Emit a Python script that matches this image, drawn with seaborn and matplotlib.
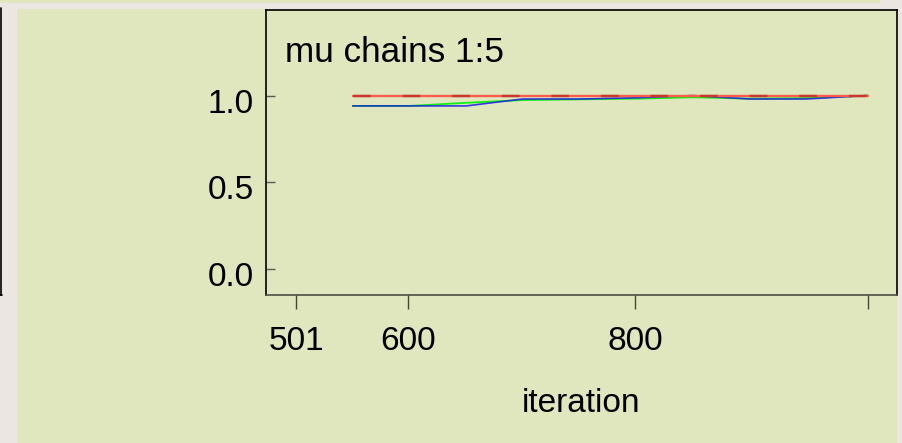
import matplotlib
matplotlib.use("Agg")
import matplotlib.pyplot as plt
from matplotlib.patches import Rectangle
from matplotlib.lines import Line2D
from matplotlib.transforms import ScaledTranslation
import pandas as pd
import seaborn as sns

# Brooks-Gelman-Rubin diagnostic for mu (chains 1:5)
iterations = [551, 601, 651, 701, 751, 801, 851, 901, 951, 1005]
pooled_width = [0.94, 0.94, 0.958, 0.974, 0.978, 0.982, 0.99, 0.982, 0.985, 1.0]   # green
within_width = [0.94, 0.94, 0.94, 0.98, 0.98, 0.987, 1.0, 0.98, 0.98, 1.0]        # blue
bgr_ratio = [1.0, 1.0, 1.0, 1.0, 1.0, 1.0, 1.0, 1.0, 1.0, 1.0]                     # red

x_ticks = [501, 600, 800, 1005]
x_tick_labels = ["501", "600", "800", ""]
y_ticks = [0.0, 0.5, 1.0]
y_tick_labels = ["0.0", "0.5", "1.0"]
title = "mu chains 1:5"
x_label = "iteration"

PANEL = "#E0E6BE"
BACKDROP = "#ECE6E3"

sns.set_theme(style="white")
plt.rcParams["font.family"] = ["Liberation Sans", "DejaVu Sans"]

fig = plt.figure(figsize=(9.02, 4.43), dpi=100, facecolor=BACKDROP)
W, H = 902.0, 443.0

# panel backgrounds
fig.patches.append(Rectangle((16.7 / W, 0), (897 - 16.7) / W, (H - 9.3) / H,
                             transform=fig.transFigure, facecolor=PANEL,
                             edgecolor="none", zorder=-10))
fig.patches.append(Rectangle((0, 1 - 2.7 / H), 880 / W, 2.7 / H,
                             transform=fig.transFigure, facecolor=PANEL,
                             edgecolor="none", zorder=-10))
# edge of the neighbouring panel on the left
fig.lines.append(Line2D([1 / W, 1 / W], [1 - 8 / H, 1 - 295 / H],
                        transform=fig.transFigure, color="black", lw=1.2, zorder=-5))
fig.lines.append(Line2D([0, 2 / W], [1 - 295 / H, 1 - 295 / H],
                        transform=fig.transFigure, color="black", lw=1.2, zorder=-5))

ax = fig.add_axes([266 / W, (H - 295.3) / H, (897 - 266) / W, (295.3 - 9.5) / H])
ax.set_zorder(1)
ax.set_facecolor(PANEL)

df = pd.DataFrame({
    "iteration": iterations * 3,
    "value": pooled_width + within_width + bgr_ratio,
    "series": ["pooled"] * len(iterations) + ["within"] * len(iterations)
              + ["ratio"] * len(iterations),
})

sns.lineplot(data=df[df.series == "pooled"], x="iteration", y="value",
             color="#10F010", lw=1.3, ax=ax, legend=False)
sns.lineplot(data=df[df.series == "within"], x="iteration", y="value",
             color="#1A1AE6", lw=1.2, alpha=0.85, ax=ax, legend=False)
sns.lineplot(data=df[df.series == "ratio"], x="iteration", y="value",
             color="#FF5A4A", lw=1.7, ax=ax, legend=False)
ratio_dash = sns.lineplot(data=df[df.series == "ratio"], x="iteration", y="value",
                          color="#C43A30", lw=1.7, ax=ax, legend=False)
ratio_dash.lines[-1].set_dashes([7.5, 13.5])

ax.set_xlim(474.5, 1031)
ax.set_ylim(-0.154, 1.497)

ax.set_xticks(x_ticks)
ax.set_xticklabels(x_tick_labels, fontsize=24)
ax.set_yticks(y_ticks)
ax.set_yticklabels(y_tick_labels, fontsize=24)
ax.tick_params(axis="x", direction="out", length=10, width=1, color="#404838",
               pad=12, bottom=True, labelcolor="black")
ax.tick_params(axis="y", direction="in", length=6.5, width=1, color="#5A6050",
               pad=8.6, left=True, labelcolor="black")
for lab in ax.get_yticklabels():
    lab.set_transform(lab.get_transform() + ScaledTranslation(0, -5 / 100, fig.dpi_scale_trans))

ax.set_xlabel("")
ax.set_ylabel("")
for side, sp in ax.spines.items():
    sp.set_visible(True)
    sp.set_linewidth(1.2)
    sp.set_color("black")
ax.spines["bottom"].set_color("#4A5042")

ax.text(0.030, 0.818, title, transform=ax.transAxes, fontsize=25.3,
        ha="left", va="baseline", color="black")
fig.text(581.5 / W, (H - 412) / H, x_label, fontsize=24, ha="center",
         va="baseline", color="black")

fig.savefig("out.png", dpi=100, facecolor=fig.get_facecolor())
